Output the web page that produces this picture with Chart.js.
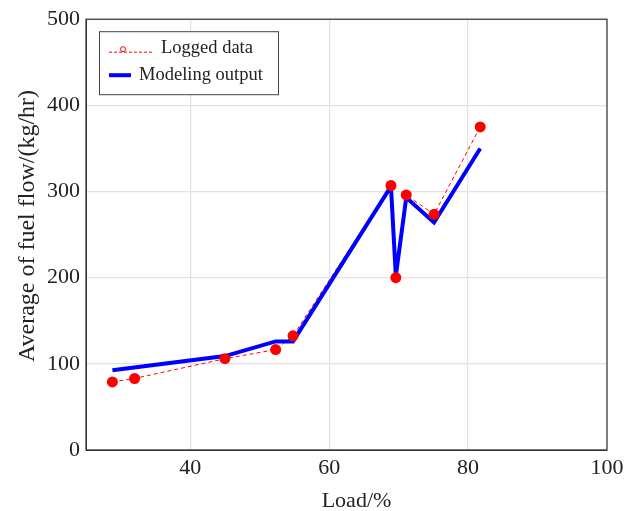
<!DOCTYPE html>
<html>
<head>
<meta charset="utf-8">
<script src="https://cdn.jsdelivr.net/npm/chart.js@4.4.0/dist/chart.umd.min.js"></script>
<style>
  html, body { margin: 0; padding: 0; background: #fff; }
  canvas { display: block; }
</style>
</head>
<body>
<canvas id="fuelChart" width="632" height="511"></canvas>
<script>
// load points (%)
const loggedLoad = [28.8, 32.0, 45.0, 52.3, 54.8, 68.9, 69.6, 71.1, 75.1, 81.75];
const loggedFlow = [79, 83, 106, 116.5, 132.5, 307, 200, 296, 273.5, 375];

const modelLoad = [28.8, 45.0, 52.3, 54.8, 68.9, 69.6, 71.1, 75.1, 81.75];
const modelFlow = [92.5, 109, 126, 126, 306, 202, 293, 264, 350];

const xTicks = [40, 60, 80, 100];
const yTicks = [0, 100, 200, 300, 400, 500];

const xTitle = 'Load/%';
const yTitle = 'Average of fuel flow/(kg/hr)';

const serif = "'Liberation Serif', 'DejaVu Serif', serif";

function toXY(xs, ys) {
    return xs.map((x, i) => ({ x: x, y: ys[i] }));
}

// frame, axis titles and legend box drawn like pgfplots
const frameAndLegend = {
    id: 'frameAndLegend',
    afterDraw(chart) {
        const ctx = chart.ctx;
        const a = chart.chartArea;
        ctx.save();
        ctx.strokeStyle = '#333';
        ctx.lineWidth = 1.2;
        ctx.strokeRect(a.left, a.top, a.right - a.left, a.bottom - a.top);

        // axis titles
        ctx.fillStyle = '#222';
        ctx.textAlign = 'center';
        ctx.textBaseline = 'middle';
        ctx.font = '22px ' + serif;
        ctx.fillText(xTitle, (a.left + a.right) / 2 + 10, 501);
        ctx.save();
        ctx.translate(28, 226);
        ctx.rotate(-Math.PI / 2);
        ctx.font = '24px ' + serif;
        ctx.fillText(yTitle, 0, 0);
        ctx.restore();

        // legend
        const lx = a.left + 13, ly = a.top + 12, lw = 179, lh = 63;
        ctx.fillStyle = '#fff';
        ctx.fillRect(lx, ly, lw, lh);
        ctx.strokeStyle = '#444';
        ctx.lineWidth = 1;
        ctx.strokeRect(lx + 0.5, ly + 0.5, lw, lh);

        ctx.font = '18.5px ' + serif;
        ctx.fillStyle = '#222';
        ctx.textAlign = 'left';

        // logged data entry
        const y1 = ly + 17;
        ctx.strokeStyle = 'red';
        ctx.lineWidth = 1;
        ctx.setLineDash([3, 2]);
        ctx.beginPath();
        ctx.moveTo(lx + 10, y1 + 4);
        ctx.lineTo(lx + 53, y1 + 4);
        ctx.stroke();
        ctx.setLineDash([]);
        ctx.beginPath();
        ctx.arc(lx + 24, y1 + 1, 2.5, 0, Math.PI * 2);
        ctx.stroke();
        ctx.fillText('Logged data', lx + 62, y1);

        // modeling output entry
        const y2 = ly + 44;
        ctx.strokeStyle = '#0000ff';
        ctx.lineWidth = 4;
        ctx.beginPath();
        ctx.moveTo(lx + 10, y2);
        ctx.lineTo(lx + 32, y2);
        ctx.stroke();
        ctx.fillText('Modeling output', lx + 40, y2);
        ctx.restore();
    }
};

const chart = new Chart(document.getElementById('fuelChart'), {
    type: 'scatter',
    data: {
        datasets: [
            {
                // markers on top
                label: 'Logged data',
                data: toXY(loggedLoad, loggedFlow),
                showLine: false,
                pointRadius: 5.5,
                pointBorderWidth: 0,
                pointBackgroundColor: 'red'
            },
            {
                label: 'Modeling output',
                data: toXY(modelLoad, modelFlow),
                showLine: true,
                borderColor: '#0000ff',
                borderWidth: 4,
                pointRadius: 0
            },
            {
                // dashed line underneath
                label: 'Logged data line',
                data: toXY(loggedLoad, loggedFlow),
                showLine: true,
                borderColor: 'red',
                borderWidth: 1,
                borderDash: [4, 3],
                pointRadius: 0
            }
        ]
    },
    options: {
        responsive: false,
        devicePixelRatio: 1,
        animation: false,
        layout: { padding: { left: 0, right: 25, top: 18, bottom: 0 } },
        plugins: {
            legend: { display: false },
            tooltip: { enabled: false }
        },
        scales: {
            x: {
                type: 'linear',
                min: 25,
                max: 100,
                afterBuildTicks: (scale) => { scale.ticks = xTicks.map(v => ({ value: v })); },
                afterFit: (scale) => { scale.height = 61; },
                grid: { color: '#e2e2e2', lineWidth: 1.2, drawTicks: false },
                border: { color: '#333' },
                ticks: {
                    color: '#222',
                    padding: 5,
                    font: { family: serif, size: 22 }
                }
            },
            y: {
                type: 'linear',
                min: 0,
                max: 500,
                afterBuildTicks: (scale) => { scale.ticks = yTicks.map(v => ({ value: v })); },
                afterFit: (scale) => { scale.width = 86; },
                grid: { color: '#e2e2e2', lineWidth: 1.2, drawTicks: false },
                border: { color: '#333' },
                ticks: {
                    color: '#222',
                    padding: 6,
                    font: { family: serif, size: 22 }
                }
            }
        }
    },
    plugins: [frameAndLegend]
});
</script>
</body>
</html>
